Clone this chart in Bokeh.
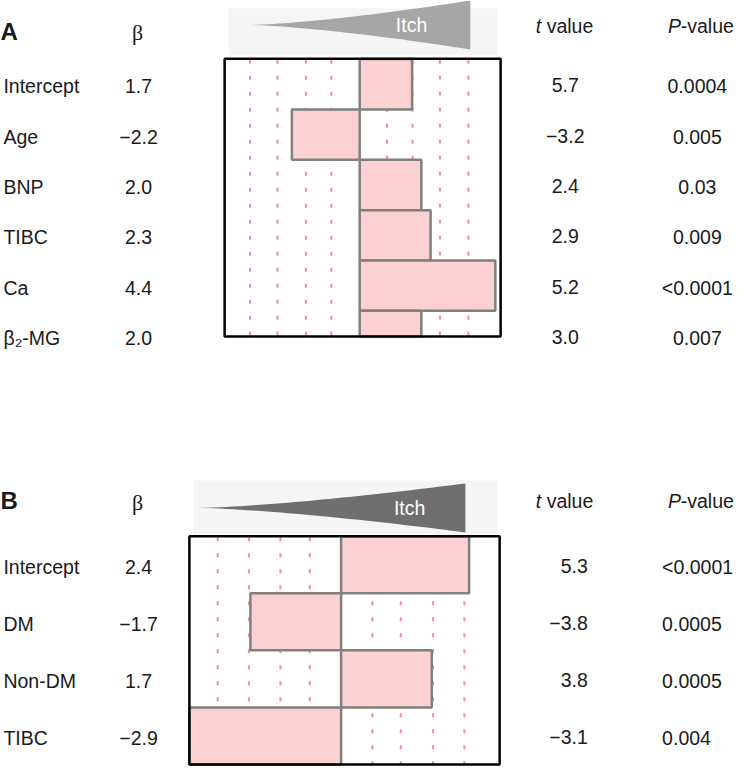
import numpy as np
from bokeh.plotting import figure
from bokeh.models import Range1d
from bokeh.core.properties import value
from bokeh.embed import file_html
from bokeh.resources import INLINE

# ---------------- data ----------------
labels_a = ["Intercept", "Age", "BNP", "TIBC", "Ca", "β₂-MG"]
beta_a = [1.7, -2.2, 2.0, 2.3, 4.4, 2.0]
t_a = [5.7, -3.2, 2.4, 2.9, 5.2, 3.0]
p_a = ["0.0004", "0.005", "0.03", "0.009", "<0.0001", "0.007"]

labels_b = ["Intercept", "DM", "Non-DM", "TIBC"]
beta_b = [2.4, -1.7, 1.7, -2.9]
t_b = [5.3, -3.8, 3.8, -3.1]
p_b = ["<0.0001", "0.0005", "0.0005", "0.004"]

# ---------------- layout (reference pixel frame) ----------------
W, H = 736, 767
X0, X1 = 0, 752
Y0, Y1 = 0, 783

FONT = "Liberation Sans"
TXT = "#1a1a1a"
FS = "19.5px"

def fmt(v):
    return f"{v:.1f}".replace("-", "\u2212")

p = figure(width=W, height=H, x_range=Range1d(X0, X1), y_range=Range1d(Y1, Y0),
           output_backend="svg", toolbar_location=None, min_border=0,
           x_axis_location=None, y_axis_location=None)
p.grid.visible = False
p.outline_line_color = None
p.background_fill_color = "white"
p.border_fill_color = "white"

panels = {
    "a": dict(zero=367.0, ppu=31.5, row0=85.5, rowh=51.4, box=(229, 511, 59.5, 343),
              head=(233, 508, 8, 56), tip=(256, 25), base=480, half=25, tri="#a6a6a6",
              itch=(420, 25), grid=[255, 283, 312, 338, 395, 421, 449, 478],
              letter="A", hy=26, ly=32, by=33,
              labels=labels_a, beta=beta_a, t=t_a, pv=p_a, t_align="center", t_x=577,
              p_align="center", p_x=712),
    "b": dict(zero=348.0, ppu=54.5, row0=576.0, rowh=58.25, box=(193, 510, 547, 780),
              head=(197, 508, 490, 545), tip=(203, 518), base=475, half=25, tri="#6f6f6f",
              itch=(418, 518), grid=[222, 254, 286, 316, 380, 409, 442, 474],
              letter="B", hy=511, ly=510, by=512,
              labels=labels_b, beta=beta_b, t=t_b, pv=p_b, t_align="right", t_x=600,
              p_align="left", p_x=676),
}

xr, yr = {}, {}
for k, c in panels.items():
    xr["x" + k] = Range1d((X0 - c["zero"]) / c["ppu"], (X1 - c["zero"]) / c["ppu"])
    yr["y" + k] = Range1d((Y1 - c["row0"]) / c["rowh"], (Y0 - c["row0"]) / c["rowh"])
p.extra_x_ranges = xr
p.extra_y_ranges = yr

def wedge(tip_x, tip_y, base_x, half, n=40):
    ts = np.linspace(0, 1, n)
    xs = tip_x + (base_x - tip_x) * ts
    h = half * ts ** 1.4
    return (np.concatenate([xs, xs[::-1]]),
            np.concatenate([tip_y - h, (tip_y + h)[::-1]]))

for k, c in panels.items():
    xn, yn = "x" + k, "y" + k
    n = len(c["beta"])
    rows = np.arange(n)
    bl, br, bt, bb = c["box"]
    dl, dr = (bl - c["zero"]) / c["ppu"], (br - c["zero"]) / c["ppu"]
    dt, db = (bt - c["row0"]) / c["rowh"], (bb - c["row0"]) / c["rowh"]

    # header band with wedge
    hl, hr, ht, hb = c["head"]
    p.quad(left=[hl], right=[hr], top=[ht], bottom=[hb], fill_color="#f5f5f5", line_color=None)
    wx, wy = wedge(c["tip"][0], c["tip"][1], c["base"], c["half"])
    p.patch(wx, wy, fill_color=c["tri"], line_color=None)
    p.text(x=[c["itch"][0]], y=[c["itch"][1]], text=["Itch"], text_color="white",
           text_font=value(FONT), text_font_size=FS, text_align="center", text_baseline="middle")

    # dashed guide lines
    gx = np.array(c["grid"], dtype=float)
    p.segment(x0=gx, x1=gx, y0=[bt + 1] * len(gx), y1=[bb] * len(gx),
              line_color="#f08ca2", line_width=2, line_dash="4 12")

    # bars (beta), clipped to the box
    b = np.array(c["beta"])
    left = np.clip(np.minimum(0, b), dl, dr)
    right = np.clip(np.maximum(0, b), dl, dr)
    top = np.clip(rows - 0.5, dt, db)
    bottom = np.clip(rows + 0.5, dt, db)
    p.quad(left=left, right=right, top=top, bottom=bottom, x_range_name=xn, y_range_name=yn,
           fill_color="#fcd1d1", line_color="#808080", line_width=2.5)

    # box
    p.quad(left=[dl], right=[dr], top=[dt], bottom=[db], x_range_name=xn, y_range_name=yn,
           fill_color=None, line_color="black", line_width=2.5)

    # headers
    p.text(x=[0], y=[c["ly"]], text=[c["letter"]], text_font=value(FONT), text_font_style="bold",
           text_font_size="24px", text_color=TXT, text_baseline="middle")
    p.text(x=[140], y=[c["by"]], text=["β"], text_font=value("Liberation Serif"),
           text_font_size="22px", text_color=TXT, text_align="center", text_baseline="middle")
    p.text(x=[547], y=[c["hy"]], text=["t"], text_font=value(FONT), text_font_style="italic",
           text_font_size=FS, text_color=TXT, text_baseline="middle")
    p.text(x=[558], y=[c["hy"]], text=["value"], text_font=value(FONT),
           text_font_size=FS, text_color=TXT, text_baseline="middle")
    p.text(x=[682], y=[c["hy"]], text=["P"], text_font=value(FONT), text_font_style="italic",
           text_font_size=FS, text_color=TXT, text_baseline="middle")
    p.text(x=[695], y=[c["hy"]], text=["-value"], text_font=value(FONT),
           text_font_size=FS, text_color=TXT, text_baseline="middle")

    # row texts
    p.text(x=[3] * n, y=rows, text=c["labels"], y_range_name=yn, text_font=value(FONT),
           text_font_size=FS, text_color=TXT, text_baseline="middle", y_offset=2)
    p.text(x=[141] * n, y=rows, text=[fmt(v) for v in c["beta"]], y_range_name=yn,
           text_font=value(FONT), text_font_size=FS, text_color=TXT, text_align="center",
           text_baseline="middle", y_offset=2)
    p.text(x=[c["t_x"]] * n, y=rows, text=[fmt(v) for v in c["t"]], y_range_name=yn,
           text_font=value(FONT), text_font_size=FS, text_color=TXT, text_align=c["t_align"],
           text_baseline="middle", y_offset=1)
    p.text(x=[c["p_x"]] * n, y=rows, text=c["pv"], y_range_name=yn,
           text_font=value(FONT), text_font_size=FS, text_color=TXT, text_align=c["p_align"],
           text_baseline="middle", y_offset=2)

open("out.html", "w").write(file_html(p, INLINE))
